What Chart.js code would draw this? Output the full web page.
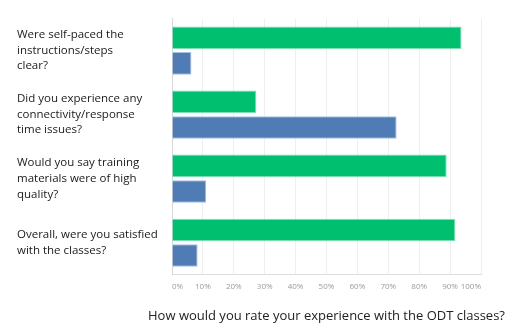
<!DOCTYPE html>
<html>
<head>
<meta charset="utf-8">
<script src="https://cdn.jsdelivr.net/npm/chart.js@4/dist/chart.umd.min.js"></script>
<style>
  html, body { margin: 0; padding: 0; background: #fff; }
  #wrap { width: 520px; height: 330px; position: relative; }
</style>
</head>
<body>
<div id="wrap"><canvas id="chart"></canvas></div>
<script>
  const questions = [
    ['Were self-paced the', 'instructions/steps', 'clear?'],
    ['Did you experience any', 'connectivity/response', 'time issues?'],
    ['Would you say training', 'materials were of high', 'quality?'],
    ['Overall, were you satisfied', 'with the classes?'],
  ];
  const greenValues = [93.7, 27.3, 88.9, 91.7];
  const blueValues = [6.3, 72.7, 11.1, 8.3];
  const percentTicks = [0, 10, 20, 30, 40, 50, 60, 70, 80, 90, 100];
  const chartTitle = 'How would you rate your experience with the ODT classes?';

  const ctx = document.getElementById('chart');

  // the title sits centred under the plot area, wider than the default box allows
  const centerTitle = {
    id: 'centerTitle',
    afterLayout(chart) {
      const area = chart.chartArea;
      const block = chart.titleBlock;
      if (!block) return;
      block.left = area.left - 40;
      block.right = area.right + 40;
      block.width = block.right - block.left;
    },
  };

  new Chart(ctx, {
    type: 'bar',
    data: {
      labels: questions,
      datasets: [
        {
          label: 'Yes',
          data: greenValues,
          backgroundColor: '#00bf6f',
          borderColor: '#7fe0b6',
          borderWidth: 1,
          barPercentage: 0.88,
          categoryPercentage: 0.8,
        },
        {
          label: 'No',
          data: blueValues,
          backgroundColor: '#507cb6',
          borderColor: '#a9c0e0',
          borderWidth: 1,
          barPercentage: 0.88,
          categoryPercentage: 0.8,
        },
      ],
    },
    plugins: [centerTitle],
    options: {
      indexAxis: 'y',
      responsive: true,
      maintainAspectRatio: false,
      animation: false,
      layout: {
        padding: { left: 17, right: 39, top: 15, bottom: 6 },
      },
      plugins: {
        legend: { display: false },
        tooltip: { enabled: false },
        title: {
          display: true,
          position: 'bottom',
          text: chartTitle,
          color: '#222222',
          font: { family: 'Open Sans', size: 13, weight: 'normal' },
          padding: { top: 10, bottom: 0 },
        },
      },
      scales: {
        x: {
          min: 0,
          max: 100,
          afterBuildTicks: (scale) => {
            scale.ticks = percentTicks.map((v) => ({ value: v }));
          },
          grid: {
            color: '#eeeeee',
            drawTicks: false,
          },
          border: { color: '#dddddd' },
          ticks: {
            align: 'inner',
            padding: 7,
            color: '#9a9a9a',
            font: { family: 'Open Sans', size: 8 },
            callback: (value) => `${value}%`,
          },
        },
        y: {
          grid: { display: false, drawTicks: false },
          border: { color: '#d8d8d8' },
          afterFit: (scale) => {
            scale.width = 155;
          },
          ticks: {
            crossAlign: 'far',
            color: '#1a1a1a',
            font: { family: 'Open Sans', size: 11.5, lineHeight: 1.35 },
          },
        },
      },
    },
  });
</script>
</body>
</html>
